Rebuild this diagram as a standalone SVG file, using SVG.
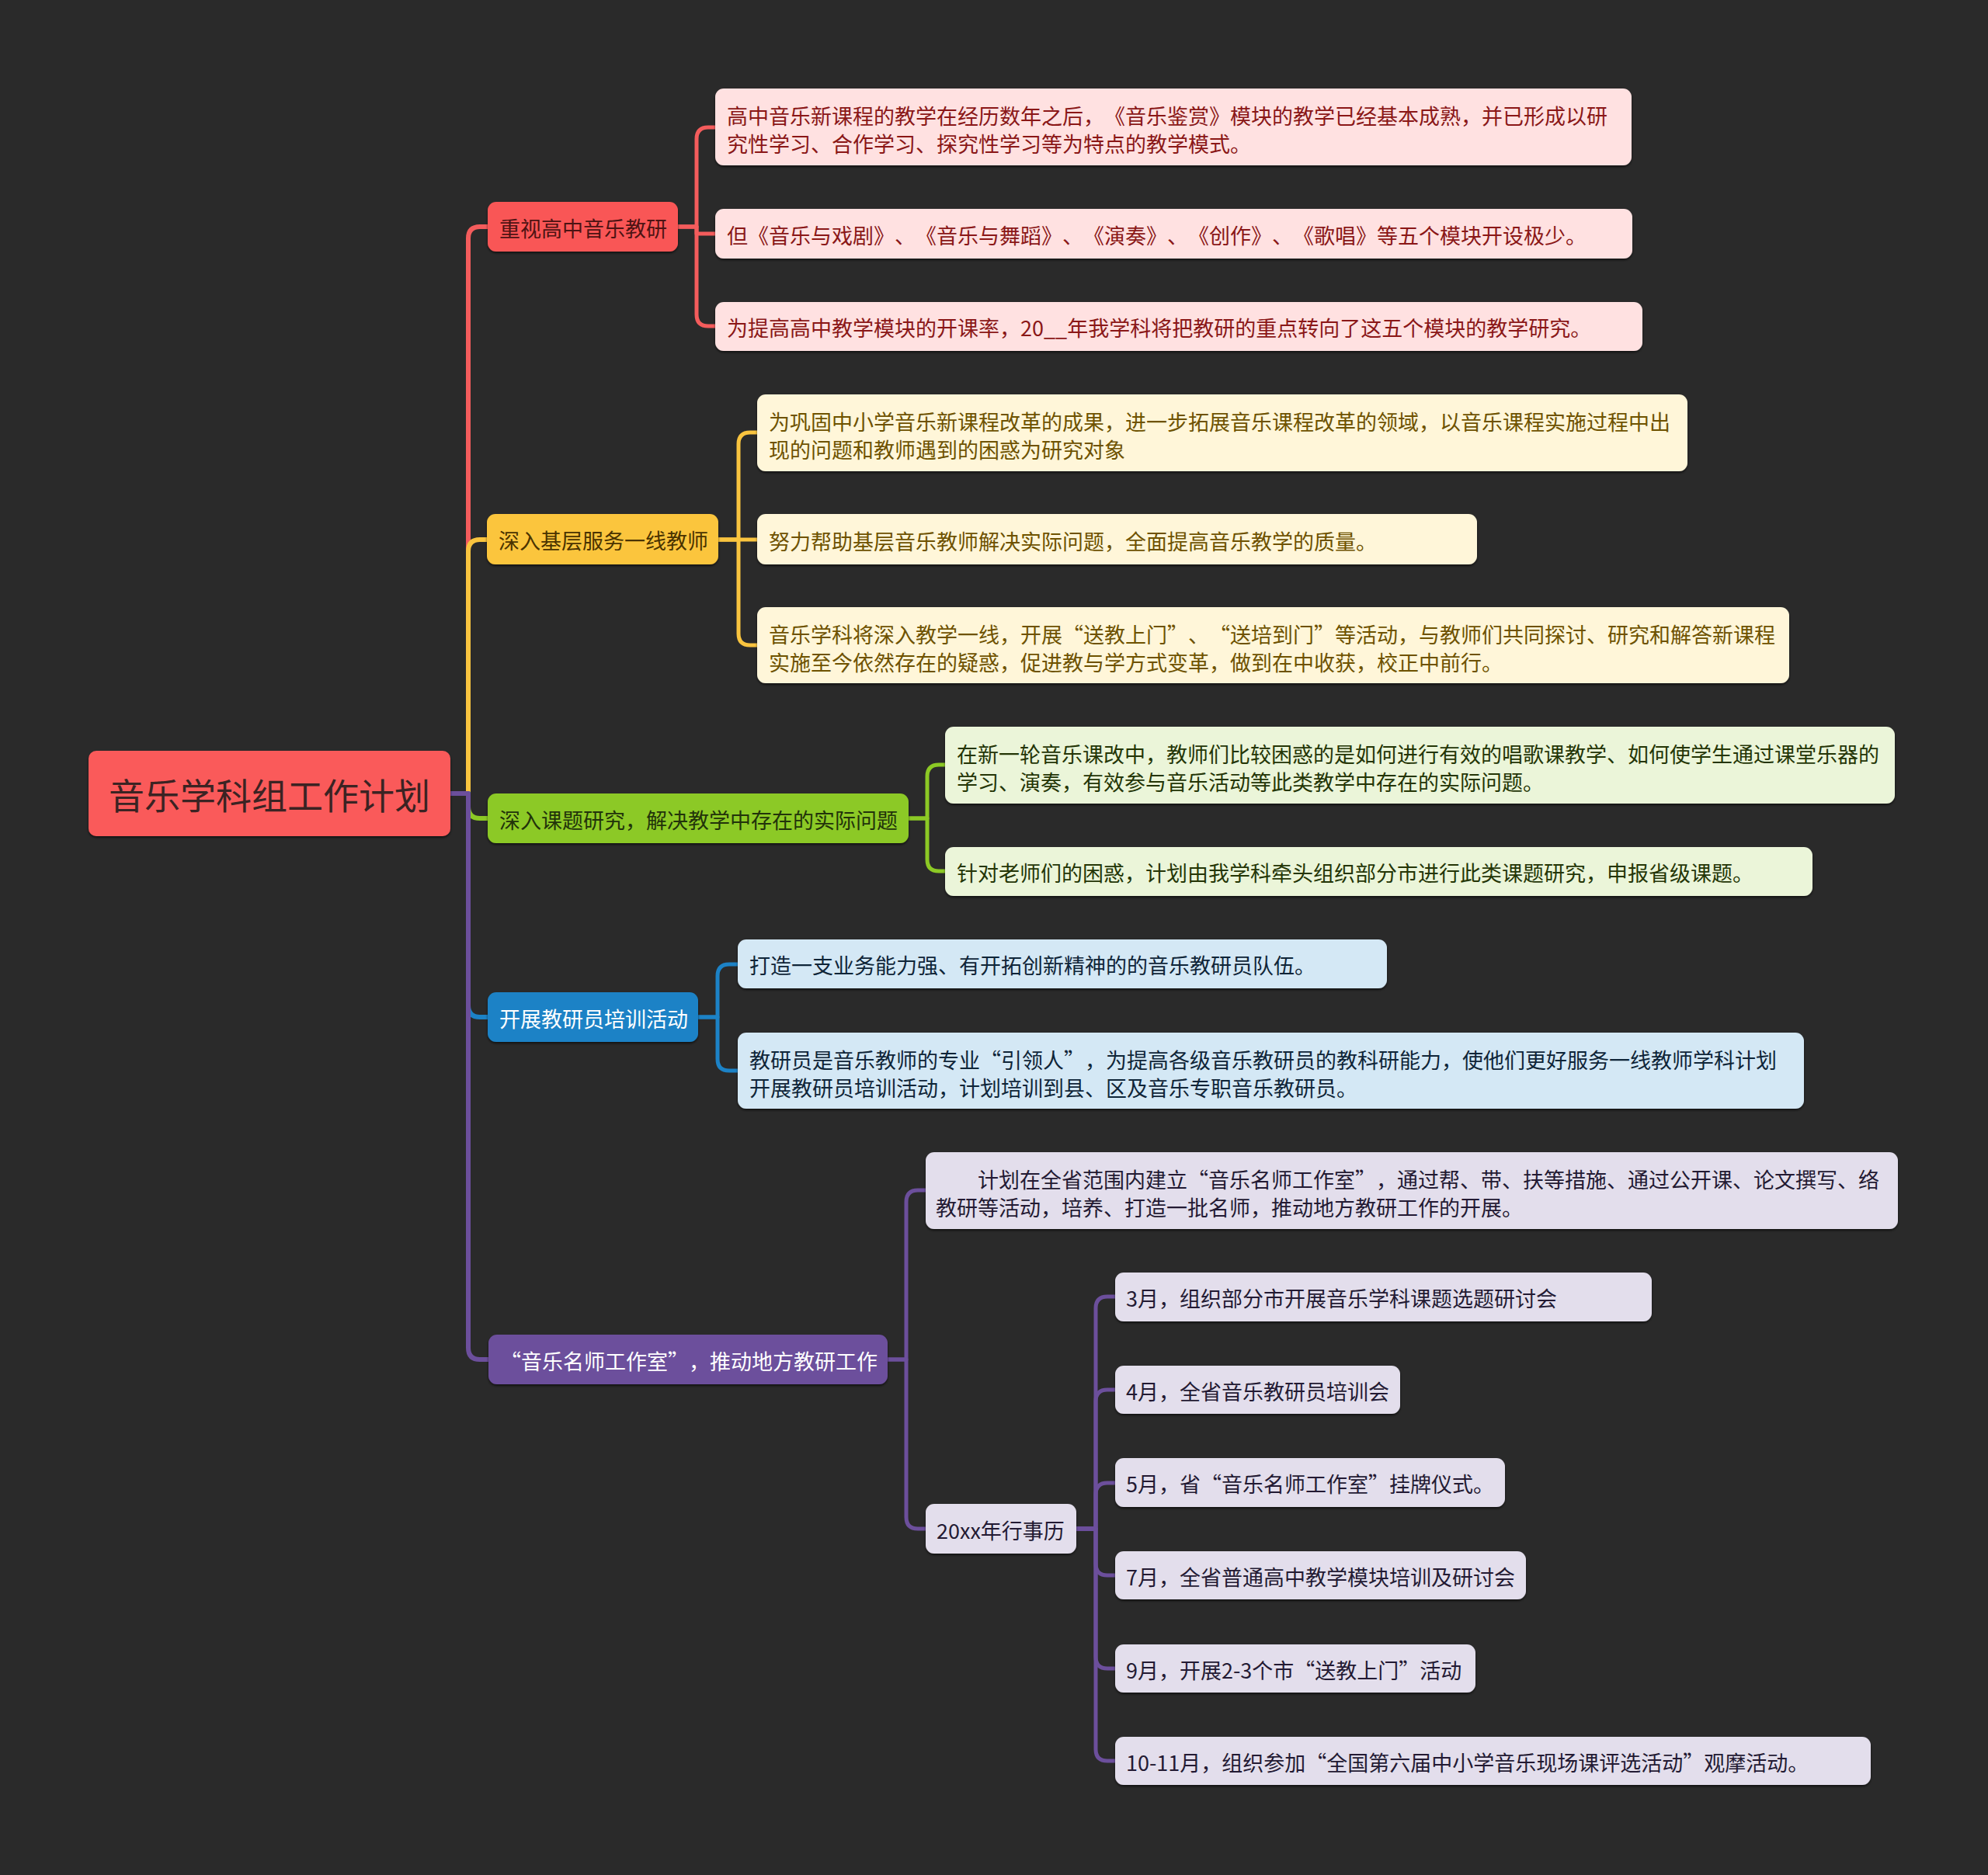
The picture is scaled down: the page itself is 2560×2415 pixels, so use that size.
<svg xmlns="http://www.w3.org/2000/svg" width="2560" height="2415" viewBox="0 0 2560 2415">
<defs>
<filter id="sh" x="-5%" y="-20%" width="110%" height="150%"><feDropShadow dx="0" dy="2" stdDeviation="1.5" flood-color="#000" flood-opacity="0.6"/></filter>
<style>
text{font-family:"Noto Sans CJK SC","Noto Sans",sans-serif;dominant-baseline:central;text-spacing-trim:space-all}
.box{filter:url(#sh)}
.t1{font-size:27px}
.t2{font-size:27px}
.c{fill:none;stroke-width:5;stroke-linejoin:round;stroke-linecap:butt}
.red{stroke:#f45c5c}.yel{stroke:#f9c43f}.grn{stroke:#8cc925}.blu{stroke:#1c82c6}.pur{stroke:#6c4f9c}
.fr{fill:#ffe1e1}.fy{fill:#fff6d9}.fg{fill:#ebf5d9}.fb{fill:#d4e8f5}.fp{fill:#e3deec}
.tr{fill:#8a1717}.ty{fill:#6e5200}.tg{fill:#243506}.tb{fill:#0f2538}.tp{fill:#231a33}
</style>
</defs>
<rect width="2560" height="2415" fill="#2a2a2a"/>
<g id="connectors">
<path class="c red" style="stroke-width:6" d="M580,1022 H603 V307 Q603,292 618,292 H629"/>
<path class="c yel" style="stroke-width:6" d="M580,1022 H603 V710 Q603,695 618,695 H629"/>
<path class="c grn" style="stroke-width:6" d="M580,1022 H603 V1039 Q603,1054 618,1054 H629"/>
<path class="c blu" style="stroke-width:6" d="M580,1022 H603 V1295 Q603,1310 618,1310 H629"/>
<path class="c pur" style="stroke-width:6" d="M580,1022 H603 V1736 Q603,1751 618,1751 H629"/>
<path class="c red" d="M873,292 H897 V179 Q897,164 912,164 H921"/>
<path class="c red" d="M873,292 H897 V301 H921"/>
<path class="c red" d="M873,292 H897 V405 Q897,420 912,420 H921"/>
<path class="c yel" d="M925,695 H951 V572 Q951,557 966,557 H975"/>
<path class="c yel" d="M925,695 H975"/>
<path class="c yel" d="M925,695 H951 V816 Q951,831 966,831 H975"/>
<path class="c grn" d="M1170,1054 H1194 V1000 Q1194,985 1209,985 H1217"/>
<path class="c grn" d="M1170,1054 H1194 V1107 Q1194,1122 1209,1122 H1217"/>
<path class="c blu" d="M899,1310 H924 V1257 Q924,1242 939,1242 H950"/>
<path class="c blu" d="M899,1310 H924 V1364 Q924,1379 939,1379 H950"/>
<path class="c pur" d="M1143,1751 H1167 V1548 Q1167,1533 1182,1533 H1192"/>
<path class="c pur" d="M1143,1751 H1167 V1954 Q1167,1969 1182,1969 H1192"/>
<path class="c pur" d="M1386,1969 H1411 V1685 Q1411,1670 1426,1670 H1436"/>
<path class="c pur" d="M1386,1969 H1411 V1805 Q1411,1790 1426,1790 H1436"/>
<path class="c pur" d="M1386,1969 H1411 V1925 Q1411,1910 1426,1910 H1436"/>
<path class="c pur" d="M1386,1969 H1411 V2014 Q1411,2029 1426,2029 H1436"/>
<path class="c pur" d="M1386,1969 H1411 V2134 Q1411,2149 1426,2149 H1436"/>
<path class="c pur" d="M1386,1969 H1411 V2253 Q1411,2268 1426,2268 H1436"/>
</g>
<g id="root"><rect class="box" x="114" y="967" width="466" height="110" rx="10" fill="#fa5a5a"/><text x="347" y="1022" text-anchor="middle" font-size="46" fill="#3b2323">音乐学科组工作计划</text></g>
<g id="n1"><rect class="box" x="628" y="260" width="245" height="64" rx="11" fill="#f95757"/><text class="t1" x="643" y="293" fill="#4d1313">重视高中音乐教研</text></g>
<g id="n2"><rect class="box" x="627" y="662" width="298" height="65" rx="11" fill="#fbc53c"/><text class="t1" x="642" y="695" fill="#4a3300">深入基层服务一线教师</text></g>
<g id="n3"><rect class="box" x="628" y="1022" width="542" height="64" rx="11" fill="#8cc925"/><text class="t1" x="643" y="1055" fill="#22330a">深入课题研究，解决教学中存在的实际问题</text></g>
<g id="n4"><rect class="box" x="628" y="1278" width="271" height="64" rx="11" fill="#1c82c6"/><text class="t1" x="643" y="1311" fill="#ffffff">开展教研员培训活动</text></g>
<g id="n5"><rect class="box" x="629" y="1719" width="514" height="64" rx="11" fill="#6c4f9c"/><text class="t1" x="644" y="1752" fill="#ffffff">“音乐名师工作室”，推动地方教研工作</text></g>
<g id="n1a"><rect class="box fr" x="921" y="114" width="1180" height="99" rx="11"/><text class="t2 tr" x="936" y="148">高中音乐新课程的教学在经历数年之后，《音乐鉴赏》模块的教学已经基本成熟，并已形成以研</text><text class="t2 tr" x="936" y="184">究性学习、合作学习、探究性学习等为特点的教学模式。</text></g>
<g id="n1b"><rect class="box fr" x="921" y="269" width="1181" height="64" rx="11"/><text class="t2 tr" x="936" y="302">但《音乐与戏剧》、《音乐与舞蹈》、《演奏》、《创作》、《歌唱》等五个模块开设极少。</text></g>
<g id="n1c"><rect class="box fr" x="921" y="389" width="1194" height="63" rx="11"/><text class="t2 tr" x="936" y="421">为提高高中教学模块的开课率，20__年我学科将把教研的重点转向了这五个模块的教学研究。</text></g>
<g id="n2a"><rect class="box fy" x="975" y="508" width="1198" height="99" rx="11"/><text class="t2 ty" x="990" y="542">为巩固中小学音乐新课程改革的成果，进一步拓展音乐课程改革的领域，以音乐课程实施过程中出</text><text class="t2 ty" x="990" y="578">现的问题和教师遇到的困惑为研究对象</text></g>
<g id="n2b"><rect class="box fy" x="975" y="662" width="927" height="65" rx="11"/><text class="t2 ty" x="990" y="696">努力帮助基层音乐教师解决实际问题，全面提高音乐教学的质量。</text></g>
<g id="n2c"><rect class="box fy" x="975" y="782" width="1329" height="98" rx="11"/><text class="t2 ty" x="990" y="816">音乐学科将深入教学一线，开展“送教上门”、“送培到门”等活动，与教师们共同探讨、研究和解答新课程</text><text class="t2 ty" x="990" y="852">实施至今依然存在的疑惑，促进教与学方式变革，做到在中收获，校正中前行。</text></g>
<g id="n3a"><rect class="box fg" x="1217" y="936" width="1223" height="99" rx="11"/><text class="t2 tg" x="1232" y="970">在新一轮音乐课改中，教师们比较困惑的是如何进行有效的唱歌课教学、如何使学生通过课堂乐器的</text><text class="t2 tg" x="1232" y="1006">学习、演奏，有效参与音乐活动等此类教学中存在的实际问题。</text></g>
<g id="n3b"><rect class="box fg" x="1217" y="1091" width="1117" height="63" rx="11"/><text class="t2 tg" x="1232" y="1123">针对老师们的困惑，计划由我学科牵头组织部分市进行此类课题研究，申报省级课题。</text></g>
<g id="n4a"><rect class="box fb" x="950" y="1210" width="836" height="63" rx="11"/><text class="t2 tb" x="965" y="1242">打造一支业务能力强、有开拓创新精神的的音乐教研员队伍。</text></g>
<g id="n4b"><rect class="box fb" x="950" y="1330" width="1373" height="98" rx="11"/><text class="t2 tb" x="965" y="1364">教研员是音乐教师的专业“引领人”，为提高各级音乐教研员的教科研能力，使他们更好服务一线教师学科计划</text><text class="t2 tb" x="965" y="1400">开展教研员培训活动，计划培训到县、区及音乐专职音乐教研员。</text></g>
<g id="n5a"><rect class="box fp" x="1192" y="1484" width="1252" height="99" rx="11"/><text class="t2 tp" x="1205" y="1518">　　计划在全省范围内建立“音乐名师工作室”，通过帮、带、扶等措施、通过公开课、论文撰写、络</text><text class="t2 tp" x="1205" y="1554">教研等活动，培养、打造一批名师，推动地方教研工作的开展。</text></g>
<g id="n5b"><rect class="box fp" x="1192" y="1937" width="194" height="64" rx="11"/><text class="t2 tp" x="1206" y="1970">20xx年行事历</text></g>
<g id="g1"><rect class="box fp" x="1436" y="1639" width="691" height="63" rx="11"/><text class="t2 tp" x="1450" y="1671">3月，组织部分市开展音乐学科课题选题研讨会</text></g>
<g id="g2"><rect class="box fp" x="1436" y="1759" width="367" height="62" rx="11"/><text class="t2 tp" x="1450" y="1791">4月，全省音乐教研员培训会</text></g>
<g id="g3"><rect class="box fp" x="1436" y="1878" width="502" height="63" rx="11"/><text class="t2 tp" x="1450" y="1910">5月，省“音乐名师工作室”挂牌仪式。</text></g>
<g id="g4"><rect class="box fp" x="1436" y="1998" width="529" height="62" rx="11"/><text class="t2 tp" x="1450" y="2030">7月，全省普通高中教学模块培训及研讨会</text></g>
<g id="g5"><rect class="box fp" x="1436" y="2118" width="464" height="62" rx="11"/><text class="t2 tp" x="1450" y="2150">9月，开展2-3个市“送教上门”活动</text></g>
<g id="g6"><rect class="box fp" x="1436" y="2237" width="973" height="62" rx="11"/><text class="t2 tp" x="1450" y="2269">10-11月，组织参加“全国第六届中小学音乐现场课评选活动”观摩活动。</text></g>
</svg>
